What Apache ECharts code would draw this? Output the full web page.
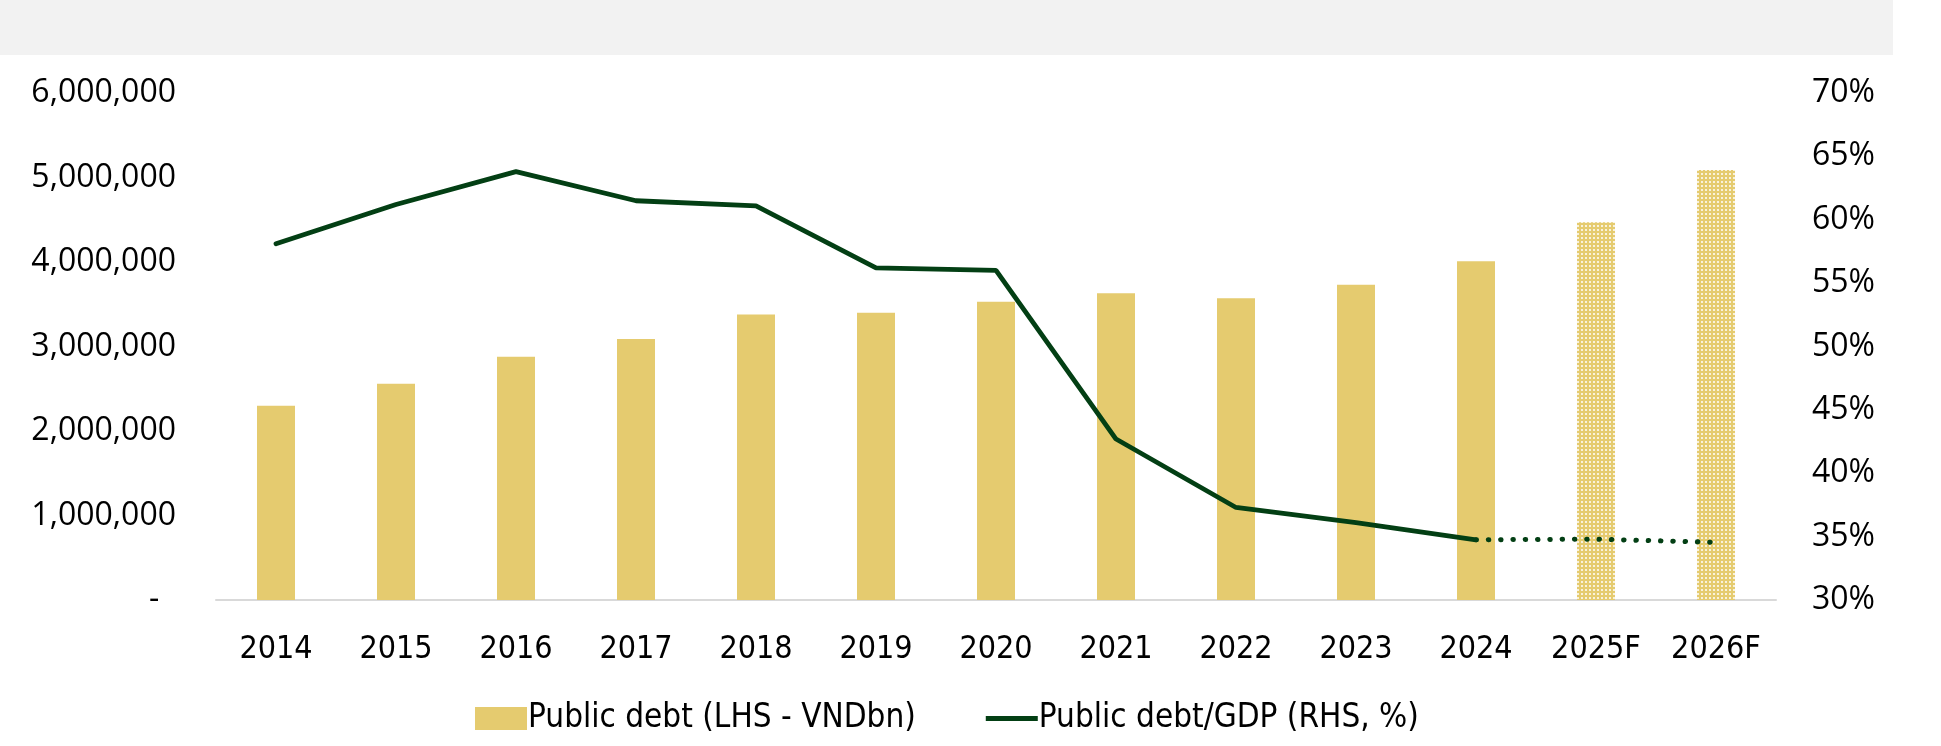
<!DOCTYPE html>
<html>

<head>
    <meta charset="utf-8">
    <title>Public debt</title>
    <script src="https://cdn.jsdelivr.net/npm/echarts@6/dist/echarts.min.js"></script>
    <style>
        html, body { margin: 0; padding: 0; background: #fff; }
        #chart { width: 1941px; height: 746px; }
    </style>
</head>

<body>
    <div id="chart"></div>

    <script type="text/javascript">
        // data
        var years = ['2014', '2015', '2016', '2017', '2018', '2019', '2020', '2021', '2022', '2023', '2024', '2025F', '2026F'];
        var public_debt = [2300000, 2560000, 2880000, 3090000, 3380000, 3400000, 3530000, 3630000, 3570000, 3730000, 4010000, 4470000, 5090000];
        var debt_to_gdp = [58.1, 61.2, 63.8, 61.5, 61.1, 56.2, 56.0, 42.7, 37.3, 36.1, 34.75, null, null];
        var debt_to_gdp_forecast = [null, null, null, null, null, null, null, null, null, null, 34.75, 34.8, 34.55];
        var forecast_from = 11; // index of first forecast year

        var BAR_COLOR = '#E5CB6F';
        var LINE_COLOR = '#033F14';
        var NARROW = 'DejaVu Sans Condensed, Roboto';

        // dotted fill for forecast bars
        function MakePattern() {
            var c = document.createElement('canvas');
            c.width = 4; c.height = 4;
            var ctx = c.getContext('2d');
            ctx.fillStyle = BAR_COLOR;
            ctx.fillRect(0, 0, 4, 4);
            ctx.fillStyle = 'rgba(255,255,255,0.75)';
            ctx.fillRect(1, 1, 2, 2);
            return c;
        }
        var pattern = { image: MakePattern(), repeat: 'repeat' };

        var bar_data = public_debt.map(function (v, i) {
            if (i >= forecast_from) {
                return { value: v, itemStyle: { color: pattern } };
            }
            return v;
        });

        var chart = echarts.init(document.getElementById('chart'), null, { renderer: 'canvas' });

        var option = {
            animation: false,
            textStyle: { fontFamily: 'Open Sans' },
            graphic: [{
                type: 'rect',
                shape: { x: 0, y: 0, width: 1893, height: 55 },
                style: { fill: '#F2F2F2' },
                silent: true
            }],
            legend: {
                left: 470,
                top: 697,
                itemWidth: 52,
                itemHeight: 23,
                itemGap: 70,
                textStyle: { fontFamily: NARROW, fontSize: 33, color: '#000', padding: [0, 0, 0, -4] },
                data: [
                    { name: 'Public debt (LHS - VNDbn)', icon: 'rect' },
                    { name: 'Public debt/GDP (RHS, %)', icon: 'path://M0,0 L52,0 L52,5 L0,5 Z' }
                ]
            },
            grid: { left: 216, right: 165, top: 93, bottom: 146 },
            xAxis: {
                type: 'category',
                data: years,
                axisLine: { lineStyle: { color: '#D9D9D9', width: 2 } },
                axisTick: { show: false },
                axisLabel: {
                    interval: 0,
                    color: '#000',
                    fontFamily: NARROW,
                    fontSize: 32,
                    margin: 34
                }
            },
            yAxis: [{
                type: 'value',
                min: 0,
                max: 6000000,
                interval: 1000000,
                splitLine: { show: false },
                axisLine: { show: false },
                axisTick: { show: false },
                axisLabel: {
                    color: '#000',
                    fontFamily: 'Open Sans',
                    fontSize: 32,
                    margin: 40,
                    formatter: function (v) {
                        if (v === 0) return '-  ';
                        return v.toLocaleString('en-US');
                    }
                }
            }, {
                type: 'value',
                min: 30,
                max: 70,
                interval: 5,
                splitLine: { show: false },
                axisLine: { show: false },
                axisTick: { show: false },
                axisLabel: {
                    color: '#000',
                    fontFamily: 'Open Sans',
                    fontSize: 32,
                    margin: 36,
                    formatter: '{value}%'
                }
            }],
            series: [{
                name: 'Public debt (LHS - VNDbn)',
                type: 'bar',
                yAxisIndex: 0,
                barWidth: 38,
                itemStyle: { color: BAR_COLOR },
                data: bar_data
            }, {
                name: 'Public debt/GDP (RHS, %)',
                type: 'line',
                yAxisIndex: 1,
                symbol: 'none',
                itemStyle: { color: LINE_COLOR },
                lineStyle: { color: LINE_COLOR, width: 4.8, cap: 'round' },
                data: debt_to_gdp
            }, {
                name: 'forecast',
                type: 'line',
                yAxisIndex: 1,
                symbol: 'none',
                lineStyle: { color: LINE_COLOR, width: 5, type: [0.5, 11.8], cap: 'round' },
                data: debt_to_gdp_forecast
            }]
        };

        chart.setOption(option);
    </script>
</body>

</html>
